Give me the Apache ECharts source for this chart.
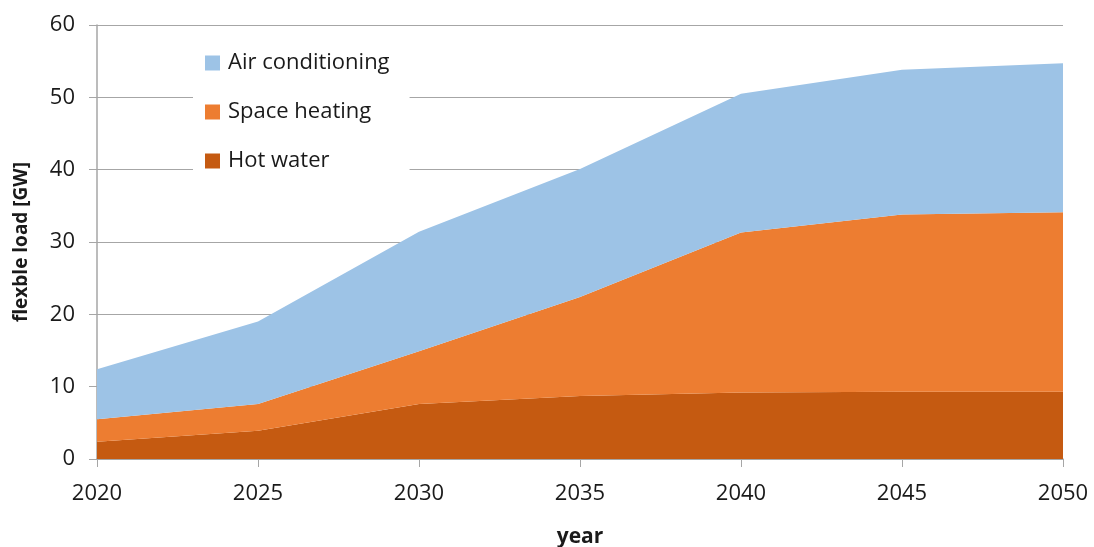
<!DOCTYPE html>
<html>
<head>
<meta charset="utf-8">
<script src="https://cdn.jsdelivr.net/npm/echarts@6/dist/echarts.min.js"></script>
<style>html,body{margin:0;padding:0;background:#fff}#c{width:1094px;height:547px}</style>
</head>
<body>
<div id="c"></div>
<script>
const years = ['2020', '2025', '2030', '2035', '2040', '2045', '2050'];
const hotWater = [2.4, 3.9, 7.6, 8.7, 9.2, 9.3, 9.3];
const spaceHeating = [3.1, 3.7, 7.3, 13.7, 22.1, 24.5, 24.8];
const airConditioning = [6.9, 11.4, 16.5, 17.7, 19.2, 20.0, 20.6];

const FONT = 'Open Sans';
function mk(name, data, color) {
  return {
    name, type: 'line', stack: 'total', data,
    symbol: 'none', lineStyle: { width: 0 }, itemStyle: { color },
    areaStyle: { color, opacity: 1 }
  };
}
const chart = echarts.init(document.getElementById('c'));
chart.setOption({
  animation: false,
  textStyle: { fontFamily: FONT },
  grid: { left: 97, right: 31, top: 25, bottom: 88, containLabel: false, outerBoundsMode: 'none' },
  legend: {
    orient: 'vertical', left: 193, top: 42,
    data: ['Air conditioning', 'Space heating', 'Hot water'],
    itemWidth: 15, itemHeight: 15, itemGap: 27,
    backgroundColor: '#fff', padding: [10, 20, 10, 12],
    icon: 'rect',
    textStyle: { fontSize: 22, color: '#1a1a1a', fontFamily: FONT, padding: [0, 0, 0, 3] }
  },
  xAxis: {
    type: 'category', data: years, boundaryGap: false,
    name: 'year', nameLocation: 'middle', nameGap: 68,
    nameTextStyle: { fontSize: 21, fontWeight: 'bold', color: '#1a1a1a' },
    axisLine: { lineStyle: { color: '#a6a6a6', width: 1.5 } },
    axisTick: { length: 8, lineStyle: { color: '#a6a6a6' }, alignWithLabel: true },
    axisLabel: { fontSize: 22, color: '#1a1a1a', margin: 24 },
    splitLine: { show: false }
  },
  yAxis: {
    type: 'value', min: 0, max: 60, interval: 10,
    name: 'flexble load [GW]', nameLocation: 'middle', nameGap: 66,
    nameTextStyle: { fontSize: 19, fontWeight: 'bold', color: '#1a1a1a' },
    axisLine: { show: true, lineStyle: { color: '#a6a6a6', width: 1.5 } },
    axisTick: { show: true, length: 8, lineStyle: { color: '#a6a6a6' } },
    axisLabel: { fontSize: 22, color: '#1a1a1a', margin: 22 },
    splitLine: { lineStyle: { color: '#a6a6a6', width: 1.2 } }
  },
  series: [
    mk('Hot water', hotWater, '#C55A11'),
    mk('Space heating', spaceHeating, '#ED7D31'),
    mk('Air conditioning', airConditioning, '#9DC3E6')
  ]
});
</script>
</body>
</html>
